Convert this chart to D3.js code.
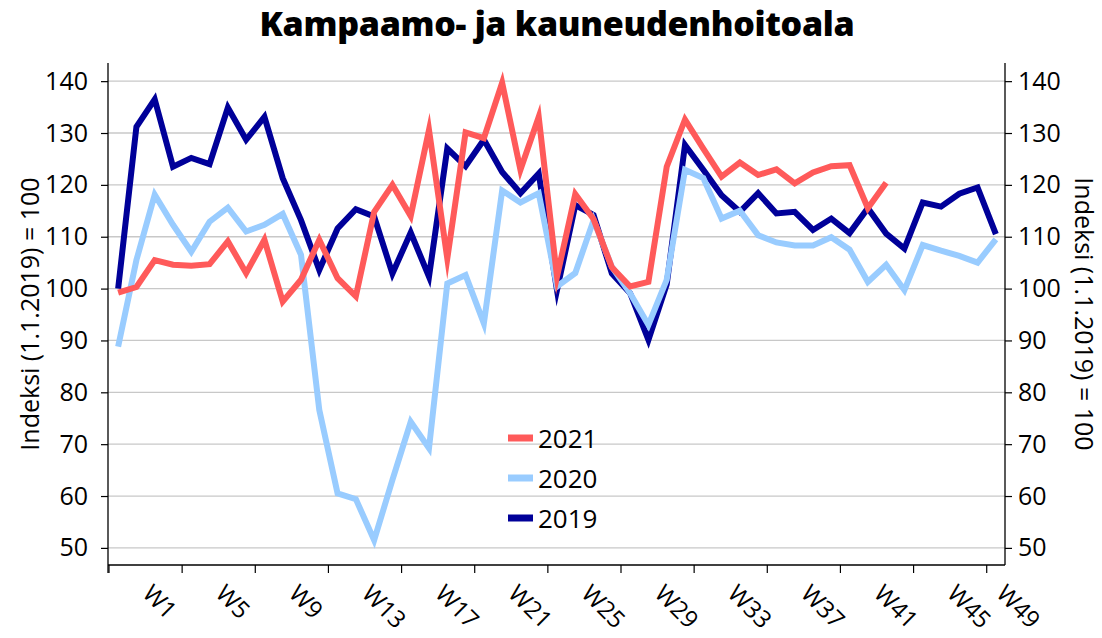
<!DOCTYPE html>
<html>
<head>
<meta charset="utf-8">
<script src="https://cdn.jsdelivr.net/npm/d3@7/dist/d3.min.js"></script>
<style>
  html, body { margin: 0; padding: 0; background: #fff; }
  svg { display: block; }
  text { font-family: "Open Sans", "Noto Sans", sans-serif; fill: #000; }
</style>
</head>
<body>
<svg id="chart" width="1102" height="638"></svg>
<script>
const weeks = ["W1","W2","W3","W4","W5","W6","W7","W8","W9","W10","W11","W12","W13","W14","W15","W16","W17","W18","W19","W20","W21","W22","W23","W24","W25","W26","W27","W28","W29","W30","W31","W32","W33","W34","W35","W36","W37","W38","W39","W40","W41","W42","W43","W44","W45","W46","W47","W48","W49"];
const tickWeeks = ["W1","W5","W9","W13","W17","W21","W25","W29","W33","W37","W41","W45","W49"];
const yTicks = [50, 60, 70, 80, 90, 100, 110, 120, 130, 140];

const v2019 = [100.0,131.2,136.5,123.5,125.2,124.0,134.9,128.7,133.1,121.3,
               113.2,103.6,111.6,115.3,113.9,102.9,110.8,102.3,127.0,123.6,
               128.7,122.5,118.4,122.2,99.7,116.1,114.2,102.9,99.1,90.1,
               100.8,127.7,122.9,118.0,114.8,118.4,114.5,114.8,111.3,113.5,
               110.7,115.5,110.6,107.7,116.6,115.8,118.3,119.5,110.5];
const v2020 = [88.8,105.5,118.1,112.3,107.1,112.9,115.6,111.0,112.3,114.4,
               106.5,76.6,60.5,59.4,51.5,63.1,74.3,69.2,101.0,102.6,
               93.3,118.9,116.6,118.4,100.4,103.0,113.2,104.2,99.1,93.0,
               101.7,122.9,121.3,113.5,115.0,110.3,108.9,108.3,108.3,109.9,
               107.5,101.3,104.6,99.7,108.4,107.3,106.3,105.0,109.5];
const v2021 = [99.2,100.3,105.5,104.6,104.4,104.7,109.1,103.0,109.4,97.5,
               101.7,109.4,102.0,98.5,114.8,120.0,114.0,130.6,105.8,130.1,
               129.0,139.7,122.9,133.1,102.3,118.2,113.4,104.1,100.4,101.3,
               123.5,132.6,127.0,121.6,124.3,121.9,123.0,120.3,122.4,123.6,
               123.8,115.5,120.4];

const seriesNames = ["2021", "2020", "2019"];
const seriesColors = ["#FF5A5A", "#99CCFF", "#000099"];

const title = "Kampaamo- ja kauneudenhoitoala";
const yTitle = "Indeksi (1.1.2019) = 100";

const svg = d3.select("#chart");
const L = 108, R = 1005, T = 63, B = 565;

const x = d3.scaleBand().domain(weeks).range([L + 1, R]).paddingInner(0).paddingOuter(0);
const y = d3.scaleLinear().domain([46.7, 143.5]).range([B, T]);
const cx = w => x(w) + x.bandwidth() / 2;

// title
svg.append("text")
  .attr("x", 557).attr("y", 36)
  .attr("text-anchor", "middle")
  .style("font-size", "34px").style("font-weight", "800")
  .style("letter-spacing", "-0.3px")
  .text(title);

// gridlines
svg.append("g").selectAll("line").data(yTicks).join("line")
  .attr("x1", L).attr("x2", R)
  .attr("y1", d => y(d)).attr("y2", d => y(d))
  .attr("stroke", "#c8c8c8").attr("stroke-width", 1.3);

// left axis
const gl = svg.append("g").attr("transform", `translate(${L},0)`)
  .call(d3.axisLeft(y).tickValues(yTicks).tickSize(7).tickPadding(13).tickSizeOuter(0));
gl.select(".domain").remove();
gl.selectAll(".tick line").attr("stroke", "#000").attr("stroke-width", 1.2);
gl.selectAll(".tick text").style("font-size", "25px").style("font-family", "'Open Sans', sans-serif").attr("fill", "#000");
svg.append("line").attr("x1", L).attr("x2", L).attr("y1", T).attr("y2", B + 8)
  .attr("stroke", "#000").attr("stroke-width", 1.3);

// right axis
const gr = svg.append("g").attr("transform", `translate(${R},0)`)
  .call(d3.axisRight(y).tickValues(yTicks).tickSize(7).tickPadding(6).tickSizeOuter(0));
gr.select(".domain").remove();
gr.selectAll(".tick line").attr("stroke", "#000").attr("stroke-width", 1.2);
gr.selectAll(".tick text").style("font-size", "25px").style("font-family", "'Open Sans', sans-serif").attr("fill", "#000");
svg.append("line").attr("x1", R).attr("x2", R).attr("y1", T).attr("y2", B)
  .attr("stroke", "#000").attr("stroke-width", 1.3);

// bottom axis
svg.append("line").attr("x1", L).attr("x2", R).attr("y1", B).attr("y2", B)
  .attr("stroke", "#000").attr("stroke-width", 1.3);
svg.append("g").selectAll("line").data(tickWeeks).join("line")
  .attr("x1", d => x(d)).attr("x2", d => x(d))
  .attr("y1", B).attr("y2", B + 8)
  .attr("stroke", "#000").attr("stroke-width", 1.2);
svg.append("g").selectAll("text").data(tickWeeks).join("text")
  .attr("transform", d => `translate(${Math.min(cx(d) + 23, R - 10)},595) rotate(45)`)
  .style("font-size", "24px")
  .text(d => d);

// y titles
svg.append("text")
  .attr("transform", `translate(39,${(T + B) / 2}) rotate(-90)`)
  .attr("text-anchor", "middle")
  .style("font-size", "25px")
  .text(yTitle);
svg.append("text")
  .attr("transform", `translate(1075,${(T + B) / 2}) rotate(90)`)
  .attr("text-anchor", "middle")
  .style("font-size", "25px")
  .text(yTitle);

// lines
const lineGen = d3.line()
  .x((d, i) => cx(weeks[i]))
  .y(d => y(d));
const dataBySeries = [v2021, v2020, v2019];
const drawOrder = [2, 1, 0];
svg.append("g").selectAll("path").data(drawOrder).join("path")
  .attr("d", k => lineGen(dataBySeries[k]))
  .attr("fill", "none")
  .attr("stroke", k => seriesColors[k])
  .attr("stroke-width", 6)
  .attr("stroke-linejoin", "miter")
  .attr("stroke-miterlimit", 10);

// legend
const lg = svg.append("g").selectAll("g").data(seriesNames).join("g")
  .attr("transform", (d, i) => `translate(508,${438 + i * 40})`);
lg.append("line").attr("x1", 0).attr("x2", 25).attr("y1", 0).attr("y2", 0)
  .attr("stroke", (d, i) => seriesColors[i]).attr("stroke-width", 7);
lg.append("text").attr("x", 30).attr("y", 9.5)
  .style("font-size", "26px")
  .text(d => d);
</script>
</body>
</html>
